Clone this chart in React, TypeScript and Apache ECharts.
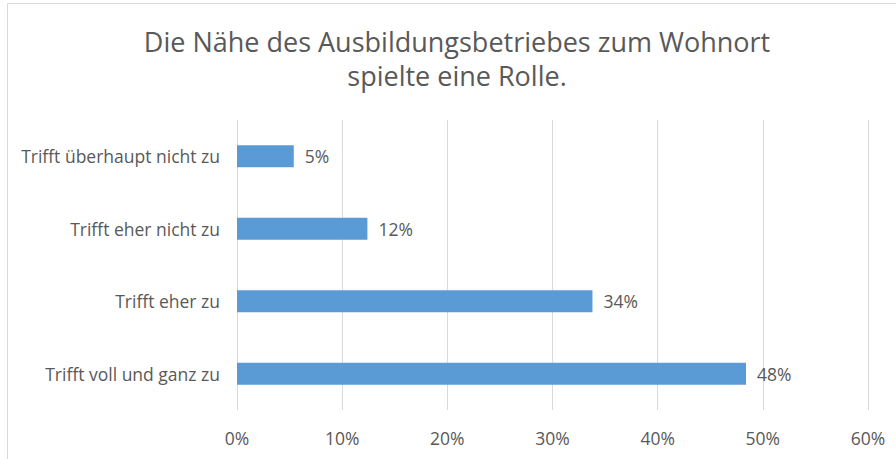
import React, { useEffect, useRef } from "react";
import * as echarts from "echarts";

const titleLines = ["Die Nähe des Ausbildungsbetriebes zum Wohnort", "spielte eine Rolle."];
const categories = ["Trifft überhaupt nicht zu", "Trifft eher nicht zu", "Trifft eher zu", "Trifft voll und ganz zu"];
const values = [5.4, 12.4, 33.8, 48.4];
const xTicks = [0, 10, 20, 30, 40, 50, 60];

export default function App() {
  const ref = useRef<HTMLDivElement>(null);
  useEffect(() => {
    if (!ref.current) return;
    const chart = echarts.init(ref.current, undefined, { renderer: "svg" });
    const font = "'Open Sans', 'Noto Sans', sans-serif";
    chart.setOption({
      animation: false,
      backgroundColor: "#ffffff",
      title: {
        text: titleLines.join("\n"),
        left: 452,
        textAlign: "center",
        top: 19,
        textStyle: { fontFamily: font, fontSize: 27, fontWeight: "normal", color: "#595959", lineHeight: 34 },
      },
      graphic: [
        {
          type: "rect",
          shape: { x: 7.5, y: 3.5, width: 1000, height: 1000 },
          style: { fill: "none", stroke: "#d9d9d9", lineWidth: 1 },
          silent: true,
        },
      ],
      grid: { left: 237, right: 28, top: 120, bottom: 49, containLabel: false },
      xAxis: {
        type: "value",
        min: xTicks[0],
        max: xTicks[xTicks.length - 1],
        interval: 10,
        axisLine: { show: false },
        axisTick: { show: false },
        splitLine: { show: true, lineStyle: { color: "#d9d9d9", width: 1 } },
        axisLabel: { formatter: "{value}%", color: "#595959", fontSize: 17.5, fontFamily: font, margin: 19 },
      },
      yAxis: {
        type: "category",
        data: categories,
        inverse: true,
        axisLine: { show: false },
        axisTick: { show: false },
        axisLabel: { color: "#595959", fontSize: 17.5, fontFamily: font, margin: 17 },
      },
      series: [
        {
          type: "bar",
          data: values,
          barWidth: 22,
          itemStyle: { color: "#5b9bd5" },
          label: {
            show: true,
            position: "right",
            distance: 11,
            color: "#595959",
            fontSize: 17.5,
            fontFamily: font,
            formatter: (p: any) => Math.round(p.value) + "%",
          },
        },
      ],
    });
    return () => chart.dispose();
  }, []);
  return <div ref={ref} style={{ position: "absolute", left: 0, top: 0, width: 896, height: 459 }} />;
}
